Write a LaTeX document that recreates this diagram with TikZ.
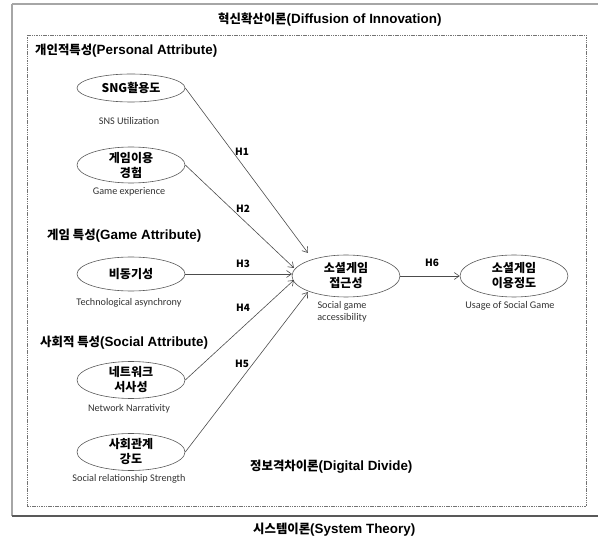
\documentclass[tikz,border=0pt]{standalone}
\usepackage{fontspec}
\usetikzlibrary{shapes.geometric,arrows.meta}
\newfontfamily\kr{Noto Sans CJK KR}
\newfontfamily\lat{Liberation Sans}
\newfontfamily\smallfont{Carlito}
\newcommand{\hd}[2]{{\kr\bfseries\fontsize{12.4}{14}\selectfont #1}{\lat\bfseries\fontsize{13.4}{14}\selectfont #2}}
\definecolor{lineg}{HTML}{595959}
\definecolor{lightg}{HTML}{A6A6A6}
\begin{document}
\begin{tikzpicture}[x=1pt,y=-1pt,
  oval/.style={draw=black!65,line width=0.6pt,ellipse,inner sep=0pt,minimum width=108pt},
  ovtxt/.style={font=\kr\bfseries\fontsize{12}{15}\selectfont,align=center,inner sep=0pt},
  sub/.style={font=\smallfont\fontsize{10.2}{12.5}\selectfont,align=center,inner sep=0pt,text=black!80},
  heading/.style={inner sep=0pt,anchor=west},
  hlab/.style={font=\kr\bfseries\fontsize{10}{12}\selectfont,inner sep=0pt},
  conn/.style={draw=black!70,line width=0.6pt,-{Straight Barb[length=5pt,width=7pt,line width=0.6pt]}}
]
\useasboundingbox (0,0) rectangle (598,540);
% outer frame
\draw[lightg,line width=2pt] (12,4.5) -- (598,4.5);
\draw[lightg,line width=1.2pt] (12,4) -- (12,516);
\draw[lineg,line width=1.3pt] (12,516) -- (598,516);
% inner dashed frame
\draw[black!55,line width=0.8pt,dash pattern=on 1.5pt off 0.8pt] (27,35) rectangle (586,506);

% headings
\node[heading] (hdiff) at (218,20) {\hd{혁신확산이론}{(Diffusion of Innovation)}};
\node[heading] (hpers) at (35,51) {\hd{개인적특성}{(Personal Attribute)}};
\node[heading] (hgame) at (47,236) {\hd{게임 특성}{(Game Attribute)}};
\node[heading] (hsoc) at (40,343) {\hd{사회적 특성}{(Social Attribute)}};
\node[heading] (hdig) at (250,467) {\hd{정보격차이론}{(Digital Divide)}};
\node[heading] (hsys) at (253,530) {\hd{시스템이론}{(System Theory)}};

% ellipses
\node[oval,minimum height=28pt] (sng) at (131,88) {};
\node[ovtxt] (sngT) at (sng) {SNG활용도};
\node[sub] (sngS) at (129,121) {SNS Utilization};

\node[oval,minimum height=36pt] (exp) at (131,165) {};
\node[ovtxt] (expT) at (exp) {게임이용\\경험};
\node[sub] (expS) at (129,192) {Game experience};

\node[oval,minimum height=34pt] (asy) at (131,274) {};
\node[ovtxt] (asyT) at (asy) {비동기성};
\node[sub] (asyS) at (129,303) {Technological asynchrony};

\node[oval,minimum height=37pt] (net) at (131,380) {};
\node[ovtxt] (netT) at (net) {네트워크\\서사성};
\node[sub] (netS) at (129,409) {Network Narrativity};

\node[oval,minimum height=37pt] (soc) at (131,452) {};
\node[ovtxt] (socT) at (soc) {사회관계\\강도};
\node[sub] (socS) at (129,479) {Social relationship Strength};

\node[oval,minimum height=42pt] (acc) at (346,276) {};
\node[ovtxt] (accT) at (acc) {소셜게임\\접근성};
\node[sub] (accS) at (342,312) {Social game\\accessibility};

\node[oval,minimum height=42pt] (use) at (514,276) {};
\node[ovtxt] (useT) at (use) {소셜게임\\이용정도};
\node[sub] (useS) at (510,306) {Usage of Social Game};

% arrow end points
\coordinate (t1) at (308,253);
\coordinate (t2) at (294,268);
\coordinate (t3) at (292,274);
\coordinate (t4) at (294,280);
\coordinate (t5) at (308,292);

\draw[conn] (sng.east) -- (t1);
\draw[conn] (exp.east) -- (t2);
\draw[conn] (asy.east) -- (t3);
\draw[conn] (net.east) -- (t4);
\draw[conn] (soc.east) -- (t5);
\draw[conn] (acc.east) -- (use.west);

\node[hlab] (h1) at (242,152) {H1};
\node[hlab] (h2) at (243,209) {H2};
\node[hlab] (h3) at (243,264) {H3};
\node[hlab] (h4) at (243,308) {H4};
\node[hlab] (h5) at (242,364) {H5};
\node[hlab] (h6) at (432,263) {H6};
\end{tikzpicture}
\end{document}
